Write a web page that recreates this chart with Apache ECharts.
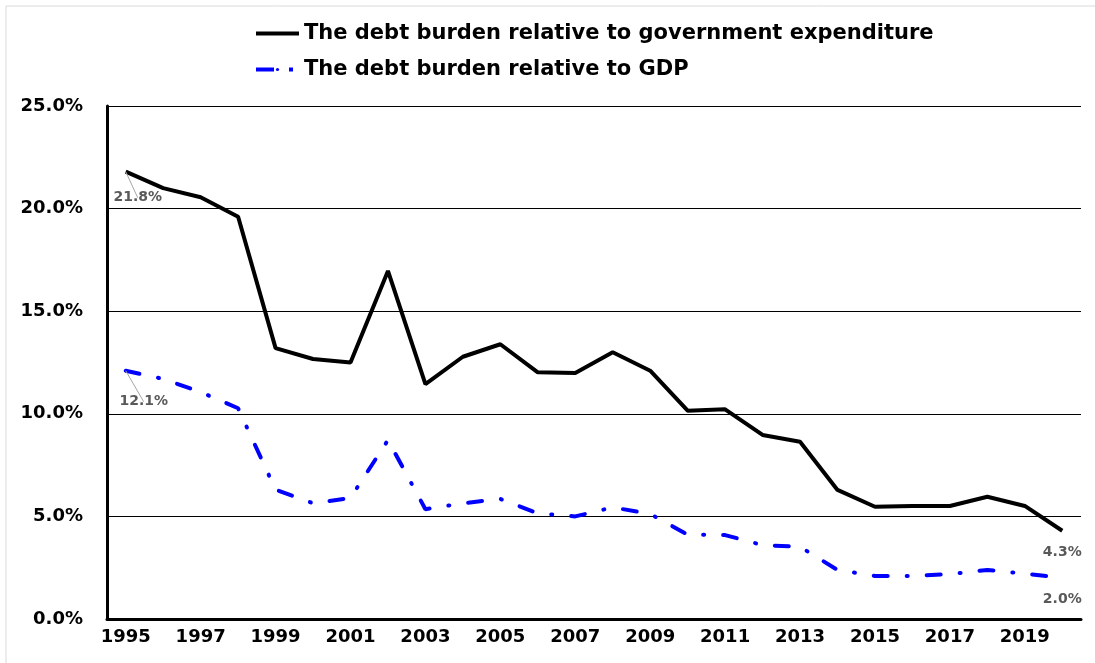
<!DOCTYPE html>
<html>
<head>
<meta charset="utf-8">
<script src="https://cdn.jsdelivr.net/npm/echarts@6/dist/echarts.min.js"></script>
<style>
html, body { margin: 0; padding: 0; background: #fff; }
#chart { width: 1095px; height: 663px; }
</style>
</head>
<body>
<div id="chart"></div>
<script>
var years = ['1995','1996','1997','1998','1999','2000','2001','2002','2003','2004','2005','2006','2007',
	'2008','2009','2010','2011','2012','2013','2014','2015','2016','2017','2018','2019','2020'];
// debt burden / government expenditure (%)
var debtToExpenditure = [21.8, 21.0, 20.55, 19.6, 13.2, 12.67, 12.5, 16.96, 11.45, 12.78, 13.39, 12.02, 11.99,
	13.0, 12.1, 10.15, 10.22, 8.97, 8.64, 6.29, 5.47, 5.51, 5.51, 5.96, 5.51, 4.3];
// debt burden / GDP (%)
var debtToGdp = [12.1, 11.7, 11.06, 10.27, 6.3, 5.64, 5.9, 8.72, 5.35, 5.64, 5.85, 5.15, 5.0,
	5.44, 5.12, 4.11, 4.09, 3.6, 3.52, 2.39, 2.1, 2.1, 2.19, 2.39, 2.21, 2.0];
var yTicks = [0, 5, 10, 15, 20, 25];

function extend(a, b) {
	var o = {};
	for (var k in a) o[k] = a[k];
	for (var k in b) o[k] = b[k];
	return o;
}

var lbl = {
	show : true,
	fontFamily : 'DejaVu Sans',
	fontWeight : 'bold',
	fontSize : 14,
	color : '#595959',
	formatter : function(p) { return p.value.toFixed(1) + '%'; }
};

// 首尾两个点加数据标签
function withLabels(arr, firstOffset, lastOffset) {
	var out = [];
	for (var i = 0; i < arr.length; i++) {
		if (i == 0) {
			out.push({ value : arr[i], label : extend(lbl, { position : 'bottom', offset : firstOffset }),
				labelLine : { show : true, lineStyle : { color : '#a6a6a6', width : 1 } } });
		} else if (i == arr.length - 1) {
			out.push({ value : arr[i], label : extend(lbl, { position : 'bottom', offset : lastOffset }) });
		} else {
			out.push(arr[i]);
		}
	}
	return out;
}

var myChart = echarts.init(document.getElementById('chart'));
var option = {
	backgroundColor : '#fff',
	animation : false,
	graphic : [ {
		type : 'rect',
		shape : { x : 6, y : 6, width : 1200, height : 800 },
		style : { fill : 'none', stroke : '#d9d9d9', lineWidth : 1 },
		silent : true
	} ],
	legend : {
		orient : 'vertical',
		left : 249,
		top : 18,
		itemWidth : 43,
		itemHeight : 4,
		itemGap : 15,
		textStyle : {
			fontFamily : 'DejaVu Sans',
			fontWeight : 'bold',
			fontSize : 21,
			color : '#000'
		},
		data : [ {
			name : 'The debt burden relative to government expenditure',
			lineStyle : { width : 4, color : '#000' }
		}, {
			name : 'The debt burden relative to GDP',
			lineStyle : { width : 4, color : '#0000ff', type : [18, 15, 4, 20], cap : 'butt' }
		} ]
	},
	grid : {
		left : 107,
		right : 14,
		top : 106,
		bottom : 44
	},
	xAxis : {
		type : 'category',
		data : years,
		boundaryGap : true,
		axisLine : { lineStyle : { color : '#000', width : 3 } },
		axisTick : { show : false },
		axisLabel : {
			interval : 1,
			margin : 9,
			fontFamily : 'DejaVu Sans',
			fontWeight : 'bold',
			fontSize : 18,
			color : '#000'
		}
	},
	yAxis : {
		type : 'value',
		min : yTicks[0],
		max : yTicks[yTicks.length - 1],
		interval : 5,
		axisLine : { show : true, lineStyle : { color : '#000', width : 3 } },
		axisTick : { show : false },
		splitLine : { lineStyle : { color : '#000', width : 1 } },
		axisLabel : {
			margin : 24,
			fontFamily : 'DejaVu Sans',
			fontWeight : 'bold',
			fontSize : 18,
			color : '#000',
			formatter : function(v) { return v.toFixed(1) + '%'; }
		}
	},
	series : [ {
		name : 'The debt burden relative to government expenditure',
		type : 'line',
		data : withLabels(debtToExpenditure, [12, 14], [0, 10]),
		symbol : 'circle',
		symbolSize : 0.1,
		showSymbol : true,
		itemStyle : { color : '#000' },
		lineStyle : { color : '#000', width : 4 }
	}, {
		name : 'The debt burden relative to GDP',
		type : 'line',
		data : withLabels(debtToGdp, [18, 19], [0, 9]),
		symbol : 'circle',
		symbolSize : 0.1,
		showSymbol : true,
		itemStyle : { color : '#0000ff' },
		lineStyle : { color : '#0000ff', width : 4, type : [14, 19, 1, 19], cap : 'round' }
	} ]
};
myChart.setOption(option);
</script>
</body>
</html>
